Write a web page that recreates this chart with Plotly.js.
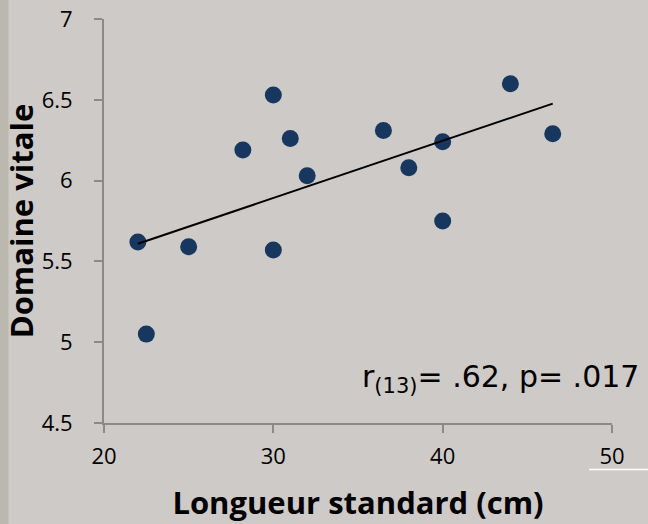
<!DOCTYPE html>
<html>
<head>
<meta charset="utf-8">
<script src="https://cdn.plot.ly/plotly-3.0.1.min.js"></script>
<style>
html,body{margin:0;padding:0;background:#cecac7;}
#chart{width:648px;height:524px;}
</style>
</head>
<body>
<div id="chart"></div>
<script>
// Data
var longueurStandard = [22, 22.5, 25, 28.2, 30, 30, 31, 32, 36.5, 38, 40, 40, 44, 46.5];
var domaineVitale   = [5.62, 5.05, 5.59, 6.19, 6.53, 5.57, 6.26, 6.03, 6.31, 6.08, 6.24, 5.75, 6.60, 6.29];
var xTicks = [20, 30, 40, 50];
var yTicks = [4.5, 5, 5.5, 6, 6.5, 7];
var yTickLabels = ["4.5", "5", "5.5", "6", "6.5", "7"];
var statText = "r<sub>(13)</sub>= .62, p= .017";

// Linear least-squares trendline from the data
var n = longueurStandard.length, mx = 0, my = 0;
for (var i = 0; i < n; i++) { mx += longueurStandard[i]; my += domaineVitale[i]; }
mx /= n; my /= n;
var sxy = 0, sxx = 0;
for (var i = 0; i < n; i++) { sxy += (longueurStandard[i]-mx)*(domaineVitale[i]-my); sxx += Math.pow(longueurStandard[i]-mx, 2); }
var slope = sxy / sxx, icpt = my - slope * mx;
var xMin = Math.min.apply(null, longueurStandard), xMax = Math.max.apply(null, longueurStandard);
var trendX = [xMin, xMax];
var trendY = trendX.map(function(v){ return icpt + slope * v; });

var W = 648, H = 524, M = {l:104, r:36, t:19, b:101};
var pw = W - M.l - M.r, ph = H - M.t - M.b;
function px(x){ return (x - M.l) / pw; }
function py(y){ return (H - M.b - y) / ph; }

var traces = [
  {x: longueurStandard, y: domaineVitale, type: 'scatter', mode: 'markers',
   marker: {color: '#17375e', size: 17}, hoverinfo: 'x+y', showlegend: false},
  {x: trendX, y: trendY, type: 'scatter', mode: 'lines',
   line: {color: '#000000', width: 2}, hoverinfo: 'skip', showlegend: false}
];

var layout = {
  width: W, height: H,
  margin: M,
  paper_bgcolor: '#cecac7', plot_bgcolor: '#cecac7',
  font: {family: '"Open Sans", sans-serif', color: '#000'},
  showlegend: false,
  xaxis: {
    range: [20, 50], tickvals: xTicks, ticktext: xTicks.map(String),
    showgrid: false, zeroline: false, showline: true, linecolor: '#8a8a8a', linewidth: 2,
    ticks: 'outside', ticklen: 8, tickwidth: 2, tickcolor: '#8a8a8a',
    tickfont: {family: '"Open Sans", sans-serif', size: 22, color: '#000'},
    ticklabelstandoff: 5,
    title: {text: '<b>Longueur standard (cm)</b>', font: {family: '"Open Sans", sans-serif', size: 31, color: '#000'}, standoff: 23}
  },
  yaxis: {
    range: [4.5, 7], tickvals: yTicks, ticktext: yTickLabels,
    showgrid: false, zeroline: false, showline: true, linecolor: '#8a8a8a', linewidth: 2,
    ticks: 'outside', ticklen: 8, tickwidth: 2, tickcolor: '#8a8a8a',
    tickfont: {family: '"Open Sans", sans-serif', size: 22, color: '#000'},
    ticklabelstandoff: 17,
    title: {text: '<b>Domaine vitale</b>', font: {family: '"Open Sans", sans-serif', size: 31, color: '#000'}, standoff: 0}
  },
  shapes: [
    {type: 'rect', xref: 'paper', yref: 'paper', x0: px(0), x1: px(8.5), y0: py(H), y1: py(0),
     fillcolor: '#bbb8af', line: {width: 0}, layer: 'below'},
    {type: 'line', xref: 'paper', yref: 'paper', x0: px(589), x1: px(648), y0: py(469.5), y1: py(469.5),
     line: {color: '#ffffff', width: 1.5}}
  ],
  annotations: [
    {text: statText, xref: 'x', yref: 'paper', x: 35.1, y: py(378), xanchor: 'left', yanchor: 'middle',
     showarrow: false, font: {family: '"DejaVu Sans", sans-serif', size: 30, color: '#000'}}
  ]
};

Plotly.newPlot('chart', traces, layout, {displayModeBar: false, responsive: false});
</script>
</body>
</html>
